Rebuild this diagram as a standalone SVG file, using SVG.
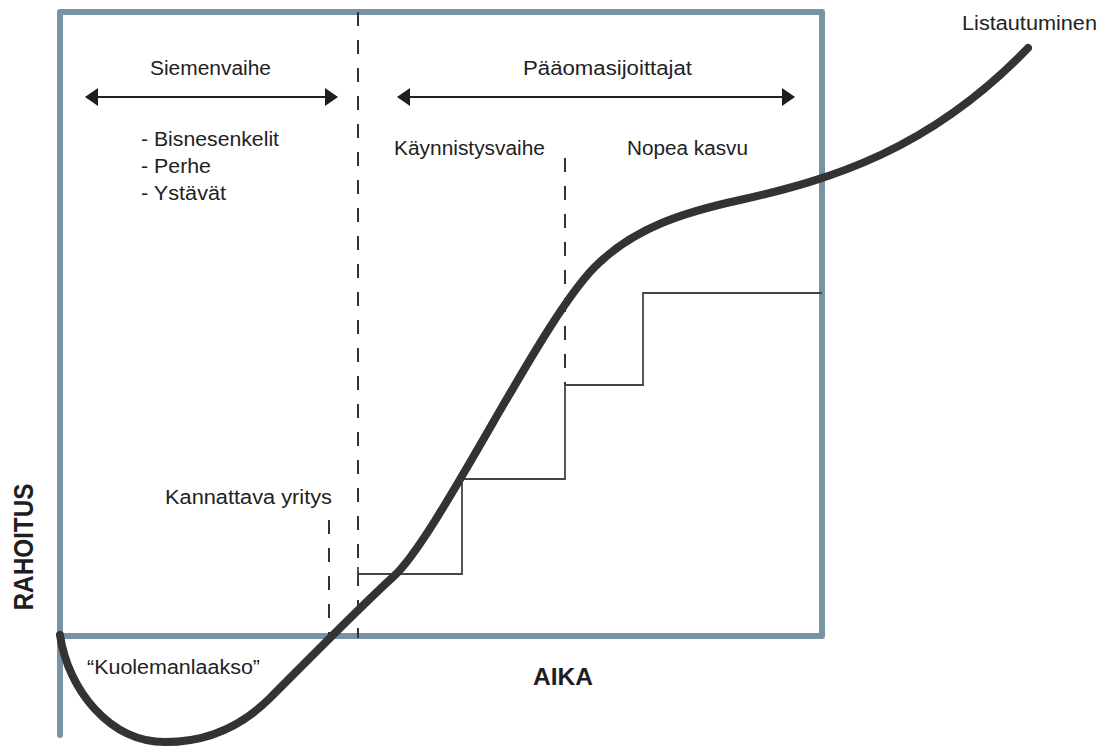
<svg xmlns="http://www.w3.org/2000/svg" width="1110" height="746" viewBox="0 0 1110 746">
<defs>
<style>
.t{font-family:"Liberation Sans",Arial,sans-serif;font-size:20px;fill:#222}
.b{font-family:"Liberation Sans",Arial,sans-serif;font-weight:bold;fill:#1e1e1e}
.frame{fill:none;stroke:#7794a4;stroke-width:6;stroke-linejoin:round;stroke-linecap:round}
.dash{fill:none;stroke:#333;stroke-width:2;stroke-dasharray:14 14}
.stair{fill:none;stroke:#444;stroke-width:1.8}
.arr{fill:none;stroke:#222;stroke-width:2.2}
.curve{fill:none;stroke:#333;stroke-width:8;stroke-linecap:round;stroke-linejoin:round}
</style>
<marker id="ah" viewBox="0 0 13 18" refX="12" refY="9" markerWidth="13" markerHeight="18" markerUnits="userSpaceOnUse" orient="auto-start-reverse">
<path d="M0,0 L13,9 L0,18 Z" fill="#1e1e1e"/>
</marker>
</defs>

<g id="frame">
<path class="frame" d="M60,735 L60,12 L822,12 L822,636 L60,636"/>
</g>

<g id="connectors">
<line class="dash" x1="358" y1="12" x2="358" y2="638"/>
<line class="dash" x1="565" y1="158" x2="565" y2="385"/>
<line class="dash" x1="329" y1="520" x2="329" y2="634"/>
<line class="arr" x1="86" y1="97" x2="337" y2="97" marker-start="url(#ah)" marker-end="url(#ah)"/>
<line class="arr" x1="398" y1="97" x2="794" y2="97" marker-start="url(#ah)" marker-end="url(#ah)"/>
<path class="stair" d="M358,567 L358,580 M358,574 L462,574 L462,479 L565,479 L565,385 L643,385 L643,293 L822,293"/>
<path class="curve" d="M60,635 C68,690 110,742 165,742 C205,742 240,728 270,698 C300,668 360,607 393,577 C440,535 545,310 600,262 C635,229 680,213 740,200 C830,180 930,150 1028,48"/>
</g>

<g id="siemenvaihe">
<text class="t" x="150" y="75" textLength="121" lengthAdjust="spacingAndGlyphs">Siemenvaihe</text>
<text class="t" x="141" y="146" textLength="138" lengthAdjust="spacingAndGlyphs">- Bisnesenkelit</text>
<text class="t" x="141" y="173" textLength="70" lengthAdjust="spacingAndGlyphs">- Perhe</text>
<text class="t" x="141" y="200" textLength="85" lengthAdjust="spacingAndGlyphs">- Ystävät</text>
</g>

<g id="paaomasijoittajat">
<text class="t" x="523" y="75" textLength="169" lengthAdjust="spacingAndGlyphs">Pääomasijoittajat</text>
</g>

<g id="kaynnistysvaihe">
<text class="t" x="394" y="155" textLength="151" lengthAdjust="spacingAndGlyphs">Käynnistysvaihe</text>
</g>

<g id="nopea-kasvu">
<text class="t" x="627" y="155" textLength="121" lengthAdjust="spacingAndGlyphs">Nopea kasvu</text>
</g>

<g id="listautuminen">
<text class="t" x="962" y="30" textLength="135" lengthAdjust="spacingAndGlyphs">Listautuminen</text>
</g>

<g id="kannattava">
<text class="t" x="165" y="504" textLength="167" lengthAdjust="spacingAndGlyphs">Kannattava yritys</text>
</g>

<g id="kuolemanlaakso">
<text class="t" x="87" y="674" textLength="173" lengthAdjust="spacingAndGlyphs">“Kuolemanlaakso”</text>
</g>

<g id="axis-labels">
<text class="b" font-size="27" transform="translate(33,547) rotate(-90)" x="0" y="0" text-anchor="middle" textLength="127" lengthAdjust="spacingAndGlyphs">RAHOITUS</text>
<text class="b" font-size="24" x="533" y="685" textLength="60" lengthAdjust="spacingAndGlyphs">AIKA</text>
</g>
</svg>
